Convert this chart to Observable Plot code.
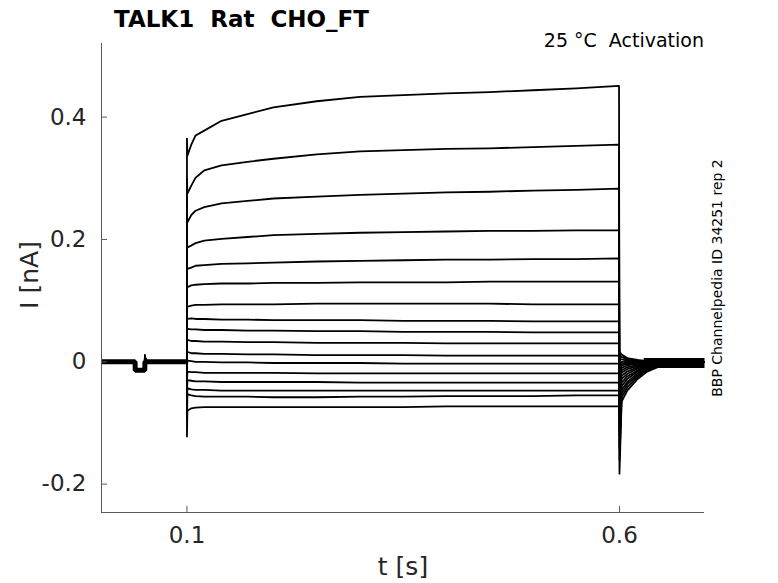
<!DOCTYPE html>
<html><head><meta charset="utf-8">
<script src="https://cdn.jsdelivr.net/npm/d3@7"></script>
<script src="https://cdn.jsdelivr.net/npm/@observablehq/plot@0.6"></script>
<style>
html,body{margin:0;padding:0;background:#fff;}
#chart{position:relative;width:778px;height:583px;}
</style></head><body><div id="chart"></div>
<script>
// ---------- data ----------
const xDomain = [0.0012, 0.6983];
const yDomain = [-0.2464, 0.5204];
const xTicks = [0.1, 0.6];
const xTickLabels = ["0.1", "0.6"];
const yTicks = [-0.2, 0, 0.2, 0.4];
const yTickLabels = ["-0.2", "0", "0.2", "0.4"];

const titleText = "TALK1  Rat  CHO_FT";
const subtitleText = "25 °C  Activation";
const sideText = "BBP Channelpedia ID 34251 rep 2";
const xLabel = "t [s]";
const yLabel = "I [nA]";

// holding period before the step (common to all sweeps)
const baselineTimes    = [0.0012, 0.0400, 0.0402, 0.0512, 0.0514, 0.0522, 0.0995, 0.1000];
const baselineCurrents = [0.000, 0.000, -0.015, -0.015, 0.010, 0.000, 0.000, 0.000];

// step period (0.1 s to 0.6 s)
const stepTimes = [0.1005, 0.105, 0.11, 0.12, 0.14, 0.17, 0.2, 0.25, 0.3, 0.35, 0.4, 0.45, 0.5, 0.55, 0.5995];
const stepCurrents = [
  [0.337, 0.355, 0.370, 0.378, 0.394, 0.405, 0.416, 0.426, 0.433, 0.436, 0.439, 0.441, 0.444, 0.447, 0.451],
  [0.275, 0.288, 0.301, 0.313, 0.321, 0.327, 0.332, 0.339, 0.344, 0.346, 0.348, 0.349, 0.351, 0.353, 0.355],
  [0.228, 0.240, 0.247, 0.253, 0.259, 0.263, 0.267, 0.270, 0.273, 0.275, 0.277, 0.278, 0.280, 0.281, 0.283],
  [0.187, 0.190, 0.194, 0.198, 0.201, 0.204, 0.207, 0.209, 0.211, 0.212, 0.213, 0.214, 0.214, 0.215, 0.215],
  [0.152, 0.154, 0.157, 0.158, 0.160, 0.161, 0.162, 0.164, 0.165, 0.166, 0.167, 0.167, 0.168, 0.168, 0.169],
  [0.122, 0.125, 0.126, 0.127, 0.128, 0.128, 0.129, 0.129, 0.130, 0.130, 0.130, 0.131, 0.131, 0.131, 0.131],
  [0.090, 0.092, 0.093, 0.093, 0.094, 0.094, 0.094, 0.095, 0.095, 0.095, 0.095, 0.095, 0.094, 0.094, 0.094],
  [0.070, 0.071, 0.070, 0.070, 0.069, 0.069, 0.068, 0.068, 0.068, 0.067, 0.067, 0.067, 0.066, 0.066, 0.066],
  [0.054, 0.053, 0.053, 0.052, 0.052, 0.051, 0.051, 0.050, 0.050, 0.049, 0.049, 0.049, 0.048, 0.048, 0.048],
  [0.036, 0.034, 0.034, 0.033, 0.033, 0.032, 0.032, 0.031, 0.031, 0.031, 0.030, 0.030, 0.030, 0.030, 0.030],
  [0.016, 0.014, 0.014, 0.013, 0.013, 0.012, 0.012, 0.011, 0.011, 0.011, 0.010, 0.010, 0.010, 0.010, 0.010],
  [0.002, 0.001, 0.000, 0.000, -0.001, -0.001, -0.002, -0.002, -0.002, -0.003, -0.003, -0.003, -0.003, -0.003, -0.003],
  [-0.016, -0.017, -0.017, -0.018, -0.018, -0.018, -0.018, -0.019, -0.019, -0.019, -0.019, -0.019, -0.019, -0.019, -0.019],
  [-0.030, -0.031, -0.032, -0.032, -0.033, -0.033, -0.033, -0.033, -0.034, -0.034, -0.034, -0.034, -0.034, -0.034, -0.034],
  [-0.043, -0.045, -0.046, -0.046, -0.047, -0.047, -0.047, -0.047, -0.047, -0.047, -0.047, -0.047, -0.047, -0.047, -0.047],
  [-0.053, -0.055, -0.056, -0.057, -0.057, -0.057, -0.058, -0.058, -0.057, -0.057, -0.056, -0.056, -0.056, -0.055, -0.055],
  [-0.080, -0.076, -0.075, -0.074, -0.074, -0.074, -0.074, -0.074, -0.074, -0.074, -0.073, -0.073, -0.073, -0.073, -0.073]
];
// capacitive peaks at step on / off
const onsetPeak  = [0.365, 0.300, 0.240, 0.195, 0.158, 0.124, 0.090, 0.070, 0.054, 0.036, 0.016, -0.010, -0.030, -0.050, -0.070, -0.095, -0.122];
const offsetPeak = [-0.183, -0.160, -0.140, -0.120, -0.100, -0.085, -0.070, -0.060, -0.050, -0.040, -0.030, -0.020, -0.012, -0.005, 0.004, 0.010, 0.016];

// tail period after the step
const tailTimes = [0.6025, 0.609, 0.621, 0.632, 0.647, 0.665, 0.6983];
const tailCurrents = [
  [-0.065, -0.047, -0.028, -0.016, -0.007, -0.002, 0],
  [-0.058, -0.042, -0.025, -0.014, -0.006, -0.002, 0],
  [-0.052, -0.037, -0.022, -0.012, -0.005, -0.001, 0],
  [-0.046, -0.033, -0.019, -0.010, -0.004, -0.001, 0],
  [-0.040, -0.028, -0.016, -0.009, -0.004, -0.001, 0],
  [-0.034, -0.024, -0.014, -0.007, -0.003, 0, 0],
  [-0.028, -0.020, -0.011, -0.006, -0.002, 0, 0],
  [-0.023, -0.016, -0.009, -0.005, -0.002, 0, 0],
  [-0.018, -0.012, -0.007, -0.004, -0.001, 0, 0],
  [-0.014, -0.009, -0.005, -0.003, -0.001, 0, 0],
  [-0.010, -0.006, -0.003, -0.002, -0.001, 0, 0],
  [-0.006, -0.004, -0.002, -0.001, 0, 0, 0],
  [-0.003, -0.002, -0.001, 0, 0, 0, 0],
  [0, 0, 0, 0, 0, 0, 0],
  [0.004, 0.002, 0.001, 0, 0, 0, 0],
  [0.008, 0.004, 0.002, 0.001, 0, 0, 0],
  [0.012, 0.006, 0.003, 0.001, 0, 0, 0]
];
// overlapping noise bands of all sweeps at the holding level
const preBandTimes = [0.0012, 0.0400, 0.0402, 0.0512, 0.0514, 0.0995];
const preBandCurrents = [0.000, 0.000, -0.014, -0.014, 0.000, 0.000];
const postBandTimes = [0.628, 0.6983];
const postBandCurrents = [-0.002, -0.002];

// ---------- build tidy rows ----------
const rows = [];
stepCurrents.forEach((vals, k) => {
  baselineTimes.forEach((t, j) => rows.push({trace: k, t, I: baselineCurrents[j]}));
  rows.push({trace: k, t: stepTimes[0] - 0.0005, I: onsetPeak[k]});
  stepTimes.forEach((t, j) => rows.push({trace: k, t, I: vals[j]}));
  rows.push({trace: k, t: stepTimes[stepTimes.length - 1] + 0.0005, I: offsetPeak[k]});
  tailTimes.forEach((t, j) => rows.push({trace: k, t, I: tailCurrents[k][j]}));
});
const preBand = preBandTimes.map((t, j) => ({t, I: preBandCurrents[j]}));
const postBand = postBandTimes.map((t, j) => ({t, I: postBandCurrents[j]}));

const W = 778, H = 583;
const mL = 101, mR = 74, mT = 43, mB = 71;
const axisColor = "#5a5a5a";
const textColor = "#262626";

const plot = Plot.plot({
  width: W, height: H,
  marginLeft: mL, marginRight: mR, marginTop: mT, marginBottom: mB,
  style: {fontFamily: "DejaVu Sans", background: "#fff", overflow: "visible"},
  x: {domain: xDomain},
  y: {domain: yDomain},
  marks: [
    Plot.line(preBand, {x: "t", y: "I", stroke: "#000", strokeWidth: 5, strokeLinejoin: "miter", strokeLinecap: "butt"}),
    Plot.line(postBand, {x: "t", y: "I", stroke: "#000", strokeWidth: 10, strokeLinecap: "butt"}),
    Plot.line(rows, {x: "t", y: "I", z: "trace", stroke: "#000", strokeWidth: 1.8, strokeLinecap: "butt"}),
    Plot.ruleX([xDomain[0]], {stroke: axisColor, strokeWidth: 1}),
    Plot.ruleY([yDomain[0]], {stroke: axisColor, strokeWidth: 1}),
    Plot.tickY(yTicks, {y: d => d, stroke: axisColor, insetRight: W - mL - mR - 6}),
    Plot.tickX(xTicks, {x: d => d, stroke: axisColor, insetTop: H - mT - mB - 6}),
    Plot.axisY(yTicks, {tickSize: 0, tickPadding: 15, fontSize: 23, color: textColor,
      tickFormat: d => yTickLabels[yTicks.indexOf(d)], label: null}),
    Plot.axisX(xTicks, {tickSize: 0, tickPadding: 14, fontSize: 23, color: textColor,
      tickFormat: d => xTickLabels[xTicks.indexOf(d)], label: null})
  ]
});
document.getElementById("chart").appendChild(plot);

const svg = d3.select(plot);
svg.append("text").attr("x", 114).attr("y", 26.7).attr("text-anchor", "start")
  .attr("font-size", 23).attr("font-weight", "bold").attr("fill", "#000")
  .style("white-space", "pre").text(titleText);
svg.append("text").attr("x", 704).attr("y", 47.3).attr("text-anchor", "end")
  .attr("font-size", 19).attr("fill", "#000")
  .style("white-space", "pre").text(subtitleText);
svg.append("text").attr("transform", "translate(722,278) rotate(-90)")
  .attr("text-anchor", "middle").attr("font-size", 14).attr("fill", "#000")
  .text(sideText);
svg.append("text").attr("x", 403).attr("y", 575).attr("text-anchor", "middle")
  .attr("font-size", 25).attr("fill", textColor).text(xLabel);
svg.append("text").attr("transform", "translate(38,275) rotate(-90)")
  .attr("text-anchor", "middle").attr("font-size", 25).attr("fill", textColor).text(yLabel);
</script>
</body></html>
